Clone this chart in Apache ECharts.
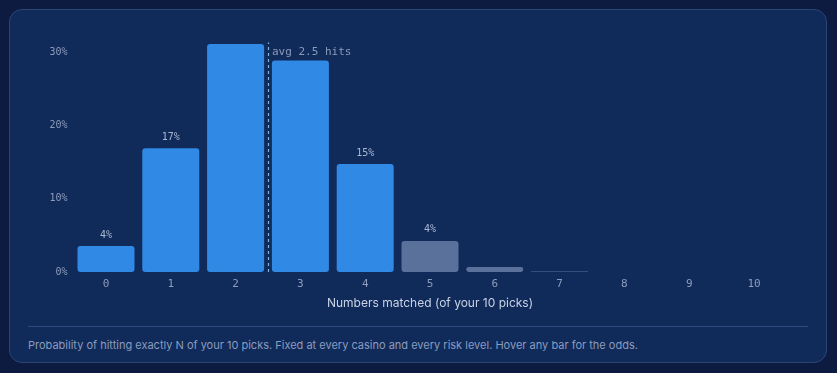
<!DOCTYPE html>
<html>
<head>
<meta charset="utf-8">
<script src="https://cdn.jsdelivr.net/npm/echarts@6/dist/echarts.min.js"></script>
<style>
html,body{margin:0;padding:0;width:837px;height:373px;background:#0c1b3f;overflow:hidden;}
#card{position:absolute;left:9px;top:9px;width:818px;height:354px;box-sizing:border-box;border:1px solid #2a4677;border-radius:13px;background:#102a5a;}
#chart{position:absolute;left:0;top:0;width:837px;height:320px;}
#sep{position:absolute;left:28px;top:326px;width:780px;height:1px;background:#2d4b7e;}
#foot{position:absolute;left:28px;top:338px;font-family:Inter,"Noto Sans",sans-serif;font-size:11px;color:#8b9cbf;}
</style>
</head>
<body>
<div id="card"></div>
<div id="chart"></div>
<div id="sep"></div>
<div id="foot">Probability of hitting exactly N of your 10 picks. Fixed at every casino and every risk level. Hover any bar for the odds.</div>
<script>
const categories = ['0','1','2','3','4','5','6','7','8','9','10'];
const probabilities = [3.54, 16.88, 31.07, 28.82, 14.71, 4.24, 0.68, 0.058, 0.0023, 0.00004, 0.0000001];
const labelText = ['4%', '17%', '', '', '15%', '4%', '', '', '', '', ''];
const yTicks = [0, 10, 20, 30];
const averageHits = 2.5;
const avgLineTop = 31.3;
const avgLabelLevel = 30;
const xAxisTitle = 'Numbers matched (of your 10 picks)';

const chart = echarts.init(document.getElementById('chart'), null, {renderer:'canvas'});
const mono = '"DejaVu Sans Mono", monospace';
const barData = probabilities.map((v, i) => ({
  value: v,
  itemStyle: { color: i <= 4 ? '#2f89e5' : '#5a719b' },
  label: { show: labelText[i] !== '', formatter: labelText[i] }
}));
chart.setOption({
  animation: false,
  grid: { left: 73.6, right: 50.6, top: 37.3, height: 234.7 },
  xAxis: [{
    type: 'category', data: categories,
    axisLine: { show: false }, axisTick: { show: false },
    axisLabel: { color: '#8d9dbb', fontFamily: mono, fontSize: 11, margin: 7 },
    name: xAxisTitle, nameLocation: 'middle', nameGap: 25,
    nameTextStyle: { color: '#c9d3e6', fontFamily: 'Inter, "Noto Sans", sans-serif', fontSize: 12 }
  }, {
    type: 'value', min: -0.5, max: 10.5, show: false
  }],
  yAxis: {
    type: 'value', min: 0, max: 32, interval: 10,
    splitLine: { show: false }, axisLine: { show: false }, axisTick: { show: false },
    axisLabel: {
      color: '#8d9dbb', fontFamily: mono, fontSize: 10, margin: 6,
      formatter: v => yTicks.includes(v) ? v + '%' : ''
    }
  },
  series: [{
    type: 'bar', data: barData, barCategoryGap: '12%',
    itemStyle: { borderRadius: 3 },
    label: { position: 'top', color: '#a9b7d1', fontFamily: mono, fontSize: 10, distance: 6 }
  }, {
    type: 'scatter', xAxisIndex: 1, yAxisIndex: 0,
    data: [[averageHits, avgLabelLevel]], symbolSize: 0, silent: true,
    label: { show: true, position: 'right', distance: 4, formatter: 'avg ' + averageHits + ' hits',
      color: '#a9b7d1', fontFamily: mono, fontSize: 11 },
    markLine: {
      silent: true, symbol: 'none',
      lineStyle: { color: '#8fc0e8', type: [3, 3], width: 1.2, opacity: 0.9 },
      label: { show: false },
      data: [[{ coord: [averageHits, 0] }, { coord: [averageHits, avgLineTop] }]]
    }
  }]
});
</script>
</body>
</html>
